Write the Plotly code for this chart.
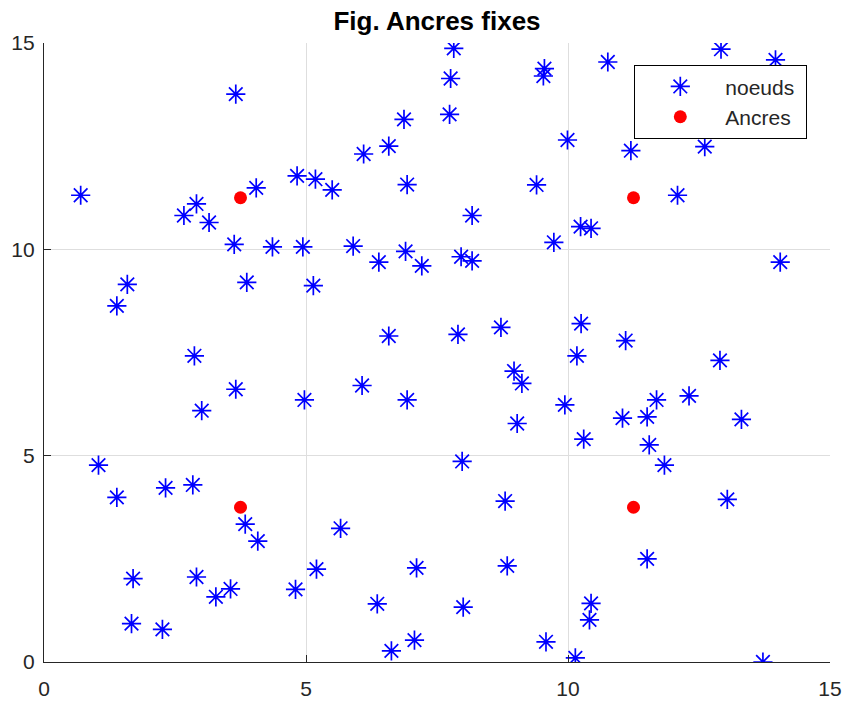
import plotly.graph_objects as go

# Noeuds (nodes)
node_x = [0.70, 3.66, 4.05, 2.91, 2.67, 3.15, 3.63, 4.36, 4.94, 4.83, 5.18, 5.50, 6.10,
          6.58, 6.87, 6.93, 5.90, 6.39, 6.90, 7.21, 3.87, 5.14, 1.59, 1.39, 6.58, 2.87,
          3.66, 3.01, 4.97, 6.07, 6.93, 1.04, 1.39, 2.32, 2.84, 3.84, 4.08, 5.66, 5.20,
          7.11, 1.70, 2.91, 3.56, 3.28, 4.80, 6.36, 1.67, 2.26, 6.63, 7.07,
          7.82, 7.76, 7.74, 9.55, 9.53, 10.76, 12.92, 13.96, 9.99, 11.20, 12.61, 9.40,
          12.09, 8.17, 10.24, 10.44, 9.73, 7.96, 8.17, 14.05, 7.90, 8.72, 10.25, 11.10,
          10.17, 12.90,
          8.97, 9.12, 9.94, 9.03, 10.30, 11.04, 11.51, 11.69, 12.31, 13.31, 11.55, 11.84,
          7.98, 8.80, 13.04, 11.51, 8.84, 8.00, 10.44, 10.41, 9.58, 10.14, 13.72]
node_y = [11.31, 13.76, 11.49, 11.10, 10.82, 10.65, 10.12, 10.06, 10.06, 11.78, 11.70, 11.44, 12.31,
          12.50, 13.15, 11.57, 10.08, 9.69, 9.95, 9.60, 9.20, 9.12, 9.15, 8.63, 7.90, 7.42,
          6.61, 6.09, 6.35, 6.70, 6.35, 4.77, 3.99, 4.22, 4.29, 3.34, 2.93, 3.24, 2.25,
          2.28, 2.02, 2.06, 1.77, 1.58, 1.76, 1.41, 0.93, 0.79, 0.27, 0.53,
          14.87, 14.14, 13.27, 14.38, 14.20, 14.54, 14.85, 14.59, 12.65, 12.39, 12.49, 11.56,
          11.31, 10.82, 10.55, 10.51, 10.17, 9.82, 9.72, 9.69, 7.94, 8.11, 8.20, 7.79,
          7.42, 7.31,
          7.05, 6.75, 6.23, 5.78, 5.40, 5.91, 5.94, 6.35, 6.45, 5.88, 5.26, 4.77,
          4.86, 3.90, 3.94, 2.50, 2.33, 1.33, 1.42, 1.02, 0.49, 0.10, 0.00]

# Ancres (anchors)
anchor_x = [3.75, 11.25, 3.75, 11.25]
anchor_y = [11.25, 11.25, 3.75, 3.75]

x_ticks = [0, 5, 10, 15]
y_ticks = [0, 5, 10, 15]

axis_color = "#262626"
grid_color = "#dedede"
font_family = "Liberation Sans, Arial, sans-serif"

fig = go.Figure()
fig.add_trace(go.Scatter(
    x=node_x, y=node_y, mode="markers", name="noeuds\u00a0",
    marker=dict(symbol="asterisk-open", size=16, color="blue",
                line=dict(color="blue", width=1.7)),
))
fig.add_trace(go.Scatter(
    x=anchor_x, y=anchor_y, mode="markers", name="Ancres\u00a0",
    marker=dict(symbol="circle", size=13, color="red", line=dict(width=0)),
))

axis_common = dict(
    showgrid=True, gridcolor=grid_color, gridwidth=1,
    showline=True, linecolor=axis_color, linewidth=1.3,
    ticks="inside", ticklen=7, tickcolor=axis_color, tickwidth=1.3,
    zeroline=False, mirror=False, automargin=False,
    tickfont=dict(family=font_family, size=21, color=axis_color),
)

fig.update_layout(
    width=844, height=701,
    margin=dict(l=44, r=14, t=43, b=39),
    paper_bgcolor="white", plot_bgcolor="white",
    title=dict(text="<b>Fig. Ancres fixes</b>", x=(437 - 44) / 786, xref="paper",
               xanchor="center", y=1 - 21 / 701, yanchor="middle",
               font=dict(family=font_family, size=26, color="black")),
    xaxis=dict(range=[0, 15], tickvals=x_ticks, ticktext=[str(v) for v in x_ticks],
               ticklabelstandoff=8, **axis_common),
    yaxis=dict(range=[0, 15], tickvals=y_ticks, ticktext=[str(v) for v in y_ticks],
               ticklabelstandoff=4, **axis_common),
    legend=dict(
        x=(807 - 44) / 786, xanchor="right", y=(662 - 65) / 619, yanchor="top",
        bgcolor="white", bordercolor="black", borderwidth=1.3,
        font=dict(family=font_family, size=21, color=axis_color),
        itemwidth=80, tracegroupgap=0,
    ),
    showlegend=True,
)

fig.write_html("out.html")
